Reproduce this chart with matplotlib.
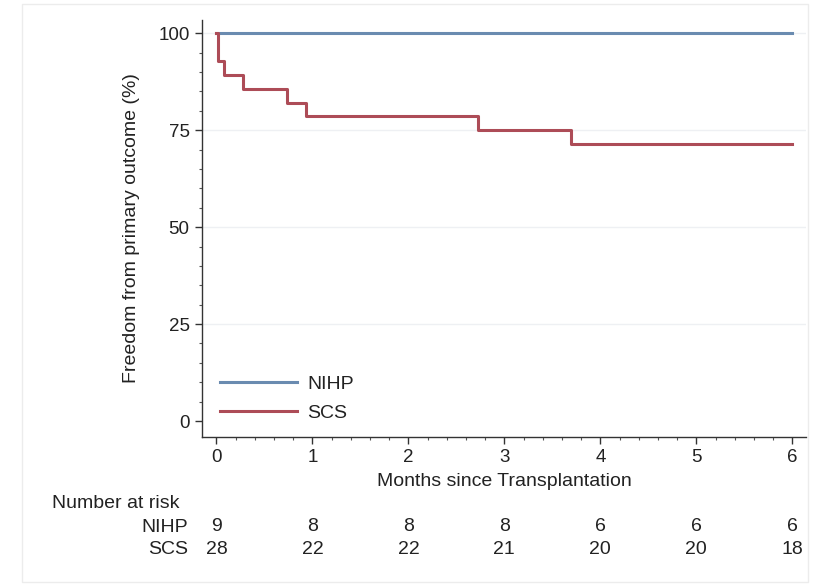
import matplotlib
matplotlib.use("Agg")
import matplotlib.pyplot as plt
from matplotlib.ticker import MultipleLocator
from matplotlib.patches import Rectangle

plt.rcParams['font.family'] = ['Liberation Sans', 'DejaVu Sans']

# Kaplan-Meier step data
nihp_times = [0, 6]
nihp_surv = [100, 100]
scs_times = [0, 0.02, 0.08, 0.28, 0.73, 0.93, 2.73, 3.69, 6]
scs_surv = [100, 92.9, 89.3, 85.7, 82.1, 78.6, 75.0, 71.4, 71.4]

groups = ["NIHP", "SCS"]
risk_times = [0, 1, 2, 3, 4, 5, 6]
nihp_risk = [9, 8, 8, 8, 6, 6, 6]
scs_risk = [28, 22, 22, 21, 20, 20, 18]

blue = "#6a8bb0"
red = "#ad4c57"
txt = "#222222"
FS = 14

fig = plt.figure(figsize=(8.18, 5.86), dpi=100)
ax = fig.add_axes([0.247, 0.2543, 0.738, 0.7116])

ax.step(nihp_times, nihp_surv, where="post", color=blue, lw=2.2, label=groups[0])
ax.step(scs_times, scs_surv, where="post", color=red, lw=2.2, label=groups[1])

ax.set_xlim(-0.15, 6.14)
ax.set_ylim(-4.1, 103.4)
ax.set_yticks([0, 25, 50, 75, 100])
ax.set_xticks(risk_times)
ax.xaxis.set_minor_locator(MultipleLocator(0.2))
ax.yaxis.set_minor_locator(MultipleLocator(5))
for y in [25, 50, 75, 100]:
    ax.axhline(y, color="#eef0f3", lw=1.0, zorder=0)

for s in ["top", "right"]:
    ax.spines[s].set_visible(False)
for s in ["left", "bottom"]:
    ax.spines[s].set_color("#333333")
    ax.spines[s].set_linewidth(1.0)
ax.tick_params(which="major", length=5, width=1.0, color="#333333", labelsize=13.5, labelcolor=txt, pad=4)
ax.tick_params(which="minor", length=2.5, width=0.8, color="#555555")

ax.set_xlabel("Months since Transplantation", fontsize=FS, color=txt, labelpad=5)
ax.set_ylabel("Freedom from primary outcome (%)", fontsize=FS, color=txt, labelpad=13)

leg = ax.legend(loc="lower left", bbox_to_anchor=(0.0, -0.005), frameon=False, fontsize=FS,
                handlelength=4.0, handletextpad=0.5, labelspacing=0.55)
for t in leg.get_texts():
    t.set_color(txt)

# Number at risk table
trans = ax.get_xaxis_transform()
fig.text(52/818, 1 - 503/586, "Number at risk", fontsize=FS, color=txt, va="center", ha="left")
for lab, vals, ypx in [(groups[0], nihp_risk, 527), (groups[1], scs_risk, 550)]:
    fig.text(188/818, 1 - ypx/586, lab, fontsize=FS, color=txt, va="center", ha="right")
    yax = (437 - ypx) / 417
    for t, v in zip(risk_times, vals):
        ax.text(t, yax, str(v), transform=trans, fontsize=FS, color=txt,
                ha="center", va="center", clip_on=False)

fig.patches.append(Rectangle((22/818, 1 - 582/586), 786/818, 578/586, transform=fig.transFigure,
                             fill=False, edgecolor="#ececec", lw=1.0))

fig.savefig("out.png", dpi=100)
